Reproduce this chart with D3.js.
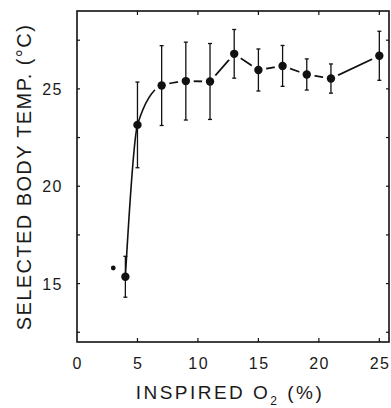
<!DOCTYPE html>
<meta charset="utf-8">
<head>
  <script src="https://d3js.org/d3.v7.min.js"></script>
</head>
<style>
body {
  margin: 0;
  background: white;
}
.tick-label {
  font-family: "Liberation Sans", Helvetica, sans-serif;
  font-size: 16px;
  letter-spacing: 1.5px;
  fill: #1a1a1a;
}
.axis-title {
  font-family: "Liberation Sans", Helvetica, sans-serif;
  fill: #1a1a1a;
}
</style>
<body>
<svg width="391" height="408" id="container"></svg>
<script>

// inspired O2 (%) and selected body temperature (mean, +/- error)
var o2 = [4, 5, 7, 9, 11, 13, 15, 17, 19, 21, 25];
var temp = [15.35, 23.15, 25.17, 25.4, 25.38, 26.8, 25.97, 26.18, 25.74, 25.53, 26.7];
var err = [1.05, 2.2, 2.05, 2.0, 1.95, 1.25, 1.08, 1.05, 0.8, 0.75, 1.26];

// lone small point
var extraO2 = [3];
var extraTemp = [15.8];

var xTicks = [0, 5, 10, 15, 20, 25];
var yTicks = [15, 20, 25];
var yMinorTicks = [12.5, 15, 17.5, 20, 22.5, 25, 27.5];

var svg = d3.select('#container');

var plotLeft = 77, plotRight = 389, plotTop = 11, plotBottom = 342;

var xScale = d3.scaleLinear().domain([0, 25.8]).range([plotLeft, plotRight]),
    yScale = d3.scaleLinear().domain([12, 29]).range([plotBottom, plotTop]);

var points = o2.map(function(d, i) { return {x: d, y: temp[i], e: err[i], i: i}; });

// frame
svg.append('rect')
   .attr('x', plotLeft)
   .attr('y', plotTop)
   .attr('width', plotRight - plotLeft)
   .attr('height', plotBottom - plotTop)
   .attr('fill', 'none')
   .attr('stroke', '#111')
   .attr('stroke-width', 1.6);

// inward ticks
xTicks.forEach(function(t) {
  if (t == 0) return;
  svg.append('line').attr('x1', xScale(t)).attr('x2', xScale(t))
     .attr('y1', plotBottom).attr('y2', plotBottom - 4)
     .attr('stroke', '#111').attr('stroke-width', 1.2);
  svg.append('line').attr('x1', xScale(t)).attr('x2', xScale(t))
     .attr('y1', plotTop).attr('y2', plotTop + 4)
     .attr('stroke', '#111').attr('stroke-width', 1.2);
});
yMinorTicks.forEach(function(t) {
  svg.append('line').attr('x1', plotLeft).attr('x2', plotLeft + 3)
     .attr('y1', yScale(t)).attr('y2', yScale(t))
     .attr('stroke', '#111').attr('stroke-width', 1.2);
  svg.append('line').attr('x1', plotRight).attr('x2', plotRight - 3)
     .attr('y1', yScale(t)).attr('y2', yScale(t))
     .attr('stroke', '#111').attr('stroke-width', 1.2);
});

// tick labels
svg.selectAll('.x-label')
   .data(xTicks)
   .enter()
   .append('text')
   .attr('class', 'tick-label x-label')
   .attr('x', function(d) { return xScale(d) + 0.75; })
   .attr('y', 369)
   .attr('text-anchor', 'middle')
   .text(function(d) { return d; });

svg.selectAll('.y-label')
   .data(yTicks)
   .enter()
   .append('text')
   .attr('class', 'tick-label y-label')
   .attr('x', 63)
   .attr('y', function(d) { return yScale(d) + 6; })
   .attr('text-anchor', 'end')
   .text(function(d) { return d; });

// fitted curve through the low-O2 points, then straight joins
var curveLine = d3.line()
                  .x(function(d) { return xScale(d.x); })
                  .y(function(d) { return yScale(d.y); })
                  .curve(d3.curveMonotoneX);
var straightLine = d3.line()
                     .x(function(d) { return xScale(d.x); })
                     .y(function(d) { return yScale(d.y); });

svg.append('path')
   .attr('d', curveLine(points.slice(0, 4)))
   .attr('fill', 'none')
   .attr('stroke', '#111')
   .attr('stroke-width', 1.6);
svg.append('path')
   .attr('d', straightLine(points.slice(3)))
   .attr('fill', 'none')
   .attr('stroke', '#111')
   .attr('stroke-width', 1.8);

// white halos leave gaps in the line near the markers
svg.selectAll('.halo')
   .data(points.filter(function(d) { return d.i >= 2; }))
   .enter()
   .append('circle')
   .attr('class', 'halo')
   .attr('cx', function(d) { return xScale(d.x); })
   .attr('cy', function(d) { return yScale(d.y); })
   .attr('r', 8)
   .attr('fill', 'white');

// error bars
var bars = svg.selectAll('.err')
              .data(points)
              .enter()
              .append('g')
              .attr('class', 'err')
              .attr('stroke', '#111')
              .attr('stroke-width', 1.3);
bars.append('line')
    .attr('x1', function(d) { return xScale(d.x); })
    .attr('x2', function(d) { return xScale(d.x); })
    .attr('y1', function(d) { return yScale(d.y + d.e); })
    .attr('y2', function(d) { return yScale(d.y - d.e); });
bars.append('line')
    .attr('x1', function(d) { return xScale(d.x) - 2; })
    .attr('x2', function(d) { return xScale(d.x) + 2; })
    .attr('y1', function(d) { return yScale(d.y + d.e); })
    .attr('y2', function(d) { return yScale(d.y + d.e); });
bars.append('line')
    .attr('x1', function(d) { return xScale(d.x) - 2; })
    .attr('x2', function(d) { return xScale(d.x) + 2; })
    .attr('y1', function(d) { return yScale(d.y - d.e); })
    .attr('y2', function(d) { return yScale(d.y - d.e); });

// markers
svg.selectAll('.data-point')
   .data(points)
   .enter()
   .append('circle')
   .attr('class', 'data-point')
   .attr('cx', function(d) { return xScale(d.x); })
   .attr('cy', function(d) { return yScale(d.y); })
   .attr('r', 4.2)
   .attr('fill', '#111');

svg.selectAll('.extra-point')
   .data(extraO2)
   .enter()
   .append('circle')
   .attr('class', 'extra-point')
   .attr('cx', function(d) { return xScale(d); })
   .attr('cy', function(d, i) { return yScale(extraTemp[i]); })
   .attr('r', 2.4)
   .attr('fill', '#111');

// axis titles: spread the letters out to the length seen in the figure
function spreadText(sel, target, nChars) {
  var w = sel.node().getComputedTextLength();
  var gap = (target - w) / (nChars - 1);
  sel.style('letter-spacing', gap + 'px');
}

var xTitle = svg.append('text')
                .attr('class', 'axis-title')
                .attr('font-size', '19px')
                .attr('x', 230)
                .attr('y', 399)
                .attr('text-anchor', 'middle');
xTitle.append('tspan').text('INSPIRED O');
xTitle.append('tspan').attr('font-size', '12px').attr('dy', 6).text('2');
xTitle.append('tspan').attr('dy', -6).text(' (%)');
spreadText(xTitle, 186, 15);

var yTitle = svg.append('text')
                .attr('class', 'axis-title')
                .attr('font-size', '20px')
                .attr('text-anchor', 'middle')
                .attr('transform', 'translate(31,177) rotate(-90)')
                .text('SELECTED BODY TEMP. (\u00B0C)');
spreadText(yTitle, 305, 24);

</script>
</body>
